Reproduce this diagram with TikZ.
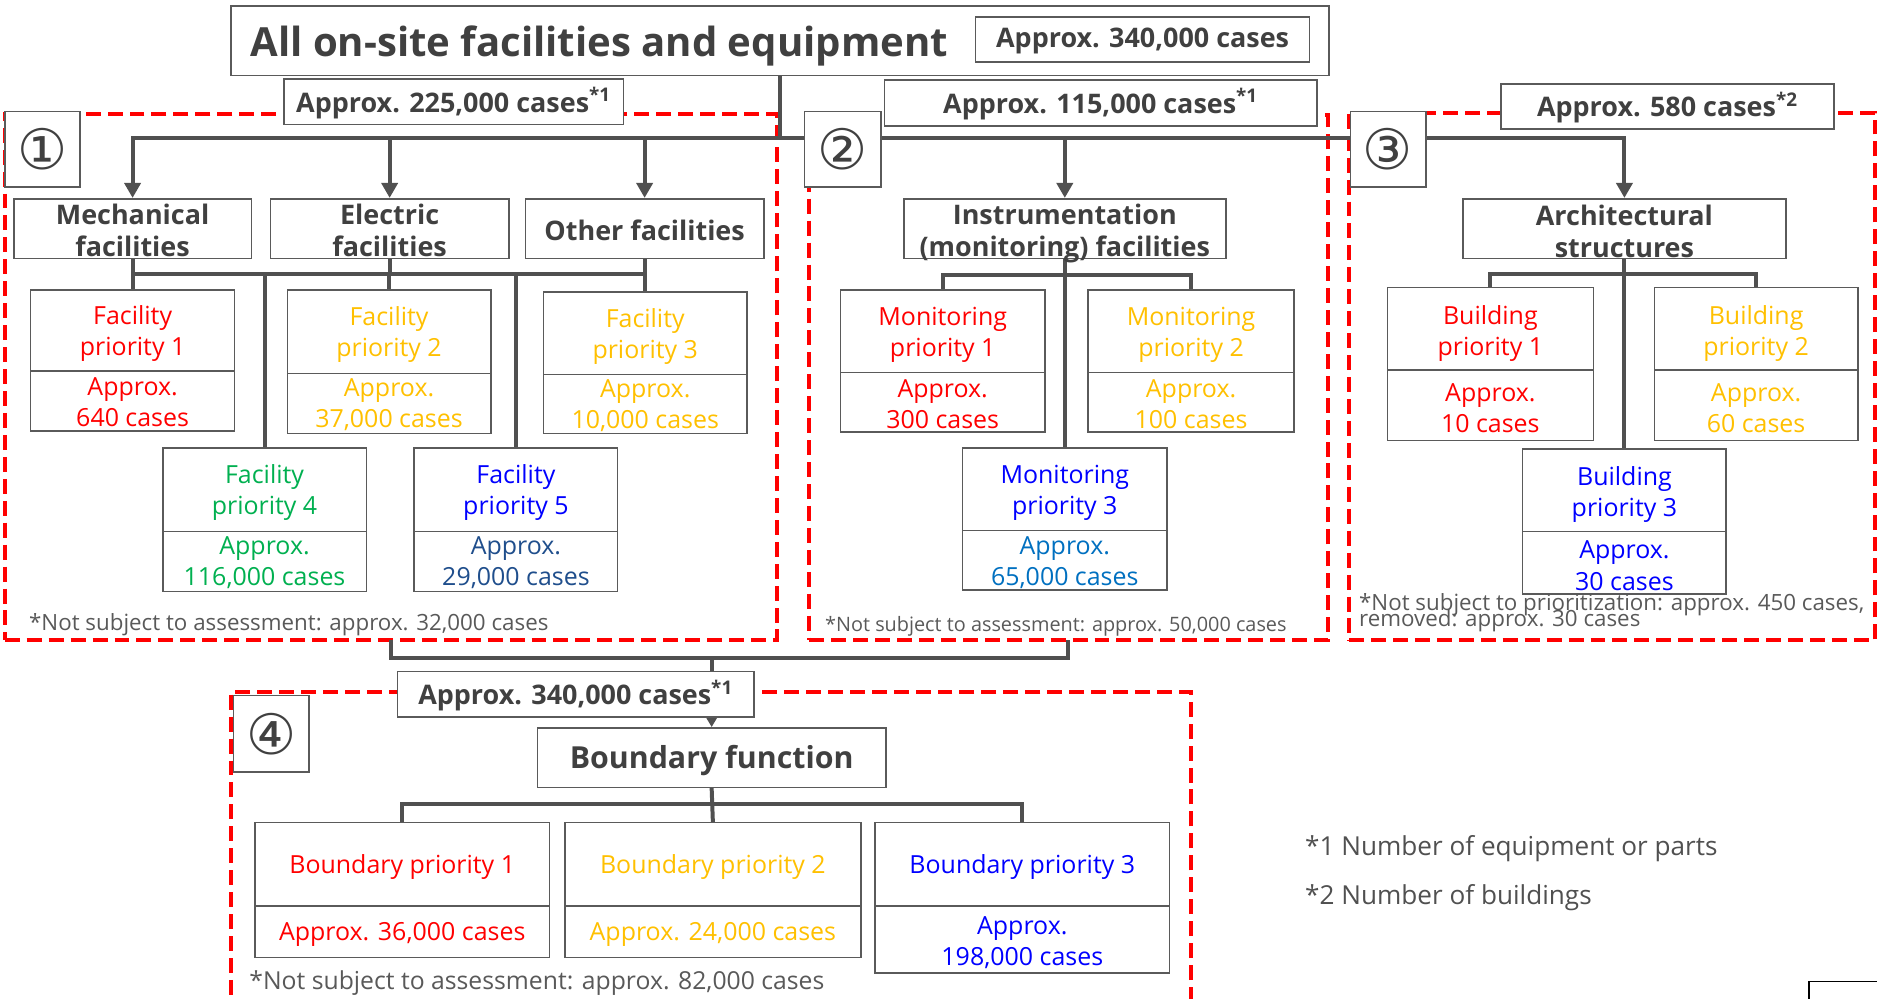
\documentclass[tikz,border=0pt]{standalone}
\usepackage{fontspec}
\setmainfont{Open Sans}
\newfontfamily\circfont{DejaVu Sans}
\usetikzlibrary{arrows.meta}
\definecolor{tgray}{HTML}{404040}
\definecolor{ngray}{HTML}{595959}
\definecolor{lgray}{HTML}{505050}
\definecolor{bgray}{HTML}{5A5A5A}
\definecolor{cred}{HTML}{FF0000}
\definecolor{cyel}{HTML}{FFC000}
\definecolor{cgreen}{HTML}{00B050}
\definecolor{cblue}{HTML}{0000FF}
\definecolor{cnavy}{HTML}{1F4E8C}
\definecolor{cmblue}{HTML}{0070C0}
\pgfdeclarelayer{bg}
\pgfsetlayers{bg,main}
\newcommand\tightlines{\lineskiplimit=-100pt\relax}
% box only: [box opts]{name}{x1}{y1}{x2}{y2}
\newcommand\boxonly[6][]{\node[cellbox,#1,minimum width={(#5-(#3))*0.6pt},minimum height={(#6-(#4))*0.6pt}] (#2) at ({(#3+#5)/2},{(#4+#6)/2}) {};}
% box with text: [text opts]{name}{x1}{y1}{x2}{y2}{text}
\newcommand\bxn[7][]{\boxonly{#2}{#3}{#4}{#5}{#6}\node[celltxt,#1] (#2-t) at (#2.center) {#7};}
\tikzset{
  cellbox/.style={draw=bgray,line width=0.8pt,fill=white,inner sep=0pt},
  celltxt/.style={inner sep=0pt,align=center,text=tgray,yshift=-1.5pt},
  bus/.style={draw=lgray,line width=2pt,line cap=rect},
  arr/.style={draw=lgray,line width=2pt,-{Triangle[length=7.5pt,width=8pt]}},
  smallarr/.style={draw=lgray,line width=1.2pt,-{Triangle[length=4.5pt,width=5pt]}},
  region/.style={draw=cred,fill=none,line width=2pt,dash pattern=on 7.5pt off 3.5pt},
  fb/.style={font=\bfseries\fontsize{13.5}{16.2}\selectfont},
  fr/.style={font=\fontsize{12.5}{15.6}\selectfont},
  circ/.style={font=\circfont\fontsize{28}{28}\selectfont,yshift=1.5pt},
  note/.style={anchor=west,inner sep=0pt,text=ngray,align=left},
}
\begin{document}
\begin{tikzpicture}[x=0.6pt,y=-0.6pt]
\useasboundingbox (0,0) rectangle (1568,834);
\clip (0,0) rectangle (1568,834);
% top
\boxonly{title}{193}{5}{1110}{63}
\node[anchor=west,inner sep=0pt,text=tgray,font=\bfseries\fontsize{20.1}{24}\selectfont] (titletxt) at (209,38) {All on-site facilities and equipment};
\bxn[fb,yshift=0.9pt]{tot0}{815}{14}{1094}{52}{Approx. 340,000 cases}
% group totals
\bxn[fb,yshift=0.9pt]{tot1}{237}{66}{521}{104}{Approx. 225,000 cases\textsuperscript{*1}}
\bxn[fb,yshift=0.9pt]{tot2}{739}{67}{1100}{105}{Approx. 115,000 cases\textsuperscript{*1}}
\bxn[fb,yshift=0.9pt]{tot3}{1254}{70}{1532}{108}{Approx. 580 cases\textsuperscript{*2}}
\bxn[fb,yshift=0.9pt]{tot4}{332}{561}{630}{599}{Approx. 340,000 cases\textsuperscript{*1}}
% circled numbers
\bxn[circ]{c1}{4}{93}{67}{156}{①}
\bxn[circ]{c2}{672}{93}{736}{156}{②}
\bxn[circ]{c3}{1128}{93}{1191}{156}{③}
\bxn[circ]{c4}{195}{581}{258}{645}{④}
% category boxes
\bxn[fb,yshift=0.6pt]{mech}{11.5}{166}{210}{216}{Mechanical\\facilities}
\bxn[fb,yshift=0.6pt]{elec}{226}{166}{425}{216}{Electric\\facilities}
\bxn[fb,yshift=0.6pt]{oth}{439}{166}{638}{216}{Other facilities}
\bxn[fb,yshift=-1pt]{inst}{755}{166}{1024}{216}{Instrumentation\\(monitoring) facilities}
\bxn[fb]{arch}{1222}{166}{1492}{216}{Architectural\\structures}
\bxn[font=\bfseries\fontsize{15.2}{18}\selectfont]{bf}{449}{608}{740}{658}{Boundary function}
% facility priorities
\bxn[fr,text=cred]{f1t}{25.6}{242}{196}{310}{Facility\\priority 1}
\bxn[fr,text=cred,yshift=0.8pt]{f1v}{25.6}{310}{196}{360}{Approx.\\640 cases}
\bxn[fr,text=cyel]{f2t}{240}{242}{410}{312}{Facility\\priority 2}
\bxn[fr,text=cyel,yshift=0.8pt]{f2v}{240}{312}{410}{362}{Approx.\\37,000 cases}
\bxn[fr,text=cyel]{f3t}{454}{244}{624}{313}{Facility\\priority 3}
\bxn[fr,text=cyel,yshift=0.8pt]{f3v}{454}{313}{624}{362}{Approx.\\10,000 cases}
\bxn[fr,text=cgreen]{f4t}{136}{374}{306}{444}{Facility\\priority 4}
\bxn[fr,text=cgreen,yshift=0.8pt]{f4v}{136}{444}{306}{494}{Approx.\\116,000 cases}
\bxn[fr,text=cblue]{f5t}{346}{374}{516}{444}{Facility\\priority 5}
\bxn[fr,text=cnavy,yshift=0.8pt]{f5v}{346}{444}{516}{494}{Approx.\\29,000 cases}
% monitoring priorities
\bxn[fr,text=cred,yshift=-0.6pt]{m1t}{702}{242}{873}{311}{Monitoring\\priority 1}
\bxn[fr,text=cred,yshift=0.5pt]{m1v}{702}{311}{873}{361}{Approx.\\300 cases}
\bxn[fr,text=cyel,yshift=-0.6pt]{m2t}{909}{242}{1081}{311}{Monitoring\\priority 2}
\bxn[fr,text=cyel,yshift=0.5pt]{m2v}{909}{311}{1081}{361}{Approx.\\100 cases}
\bxn[fr,text=cblue,yshift=-0.6pt]{m3t}{804}{374}{975}{443}{Monitoring\\priority 3}
\bxn[fr,text=cmblue,yshift=0.5pt]{m3v}{804}{443}{975}{493}{Approx.\\65,000 cases}
% building priorities
\bxn[fr,text=cred,yshift=-0.9pt]{b1t}{1159}{240}{1331}{309}{Building\\priority 1}
\bxn[fr,text=cred]{b1v}{1159}{309}{1331}{368}{Approx.\\10 cases}
\bxn[fr,text=cyel,yshift=-0.9pt]{b2t}{1382}{240}{1552}{309}{Building\\priority 2}
\bxn[fr,text=cyel]{b2v}{1382}{309}{1552}{368}{Approx.\\60 cases}
\bxn[fr,text=cblue,yshift=-0.6pt]{b3t}{1272}{375}{1442}{444}{Building\\priority 3}
\bxn[fr,text=cblue]{b3v}{1272}{444}{1442}{496}{Approx.\\30 cases}
% boundary priorities
\bxn[fr,text=cred]{p1t}{213}{687}{459}{757}{Boundary priority 1}
\bxn[fr,text=cred]{p1v}{213}{757}{459}{800}{Approx. 36,000 cases}
\bxn[fr,text=cyel]{p2t}{472}{687}{719}{757}{Boundary priority 2}
\bxn[fr,text=cyel]{p2v}{472}{757}{719}{800}{Approx. 24,000 cases}
\bxn[fr,text=cblue]{p3t}{731}{687}{977}{757}{Boundary priority 3}
\bxn[fr,text=cblue]{p3v}{731}{757}{977}{813}{Approx.\\198,000 cases}
% notes
\node[note,font=\fontsize{11.2}{12}\selectfont] (n1) at (24,522) {*Not subject to assessment: approx. 32,000 cases};
\node[note,font=\fontsize{9.95}{11}\selectfont] (n2) at (689,523) {*Not subject to assessment: approx. 50,000 cases};
\node[note,anchor=base west,font={\fontsize{11.2}{7.8}\selectfont\tightlines}] (n3) at (1135,523) {*Not subject to prioritization: approx. 450 cases,\\removed: approx. 30 cases};
\node[note,font=\fontsize{12.4}{14}\selectfont] (n4) at (208,821) {*Not subject to assessment: approx. 82,000 cases};
\node[note,text=lgray,font=\fontsize{13.1}{15}\selectfont] (fn1) at (1090,709) {*1 Number of equipment or parts};
\node[note,text=lgray,font=\fontsize{13.1}{15}\selectfont] (fn2) at (1090,750) {*2 Number of buildings};
% partial box at the corner
\boxonly[draw=black]{cut}{1511}{820}{1600}{880}
\begin{pgfonlayer}{bg}
\boxonly[region]{reg1}{4}{95}{649}{535}
\boxonly[region]{reg2}{676}{96}{1109}{535}
\boxonly[region]{reg3}{1127}{94}{1566}{535}
\boxonly[region]{reg4}{193}{578}{995}{860}
\coordinate (bus) at (0,115);
\draw[bus] (title.south) -- (title.south |- bus);
\draw[bus] (mech.north |- bus) -- (arch.north |- bus);
\draw[arr] (mech.north |- bus) -- (mech.north);
\draw[arr] (elec.north |- bus) -- (elec.north);
\draw[arr] (oth.north |- bus) -- (oth.north);
\draw[arr] (inst.north |- bus) -- (inst.north);
\draw[arr] (arch.north |- bus) -- (arch.north);
% group 1
\coordinate (sb1) at (0,229);
\draw[bus] (mech.south) -- (mech.south |- sb1) -- (oth.south |- sb1) -- (oth.south);
\draw[bus] (elec.south) -- (elec.south |- sb1);
\draw[bus] (f1t.north |- sb1) -- (f1t.north);
\draw[bus] (f2t.north |- sb1) -- (f2t.north);
\draw[bus] (f3t.north |- sb1) -- (f3t.north);
\draw[bus] (f4t.north |- sb1) -- (f4t.north);
\draw[bus] (f5t.north |- sb1) -- (f5t.north);
% group 2
\coordinate (sb2) at (0,230);
\draw[bus] (inst.south) -- (m3t.north);
\draw[bus] (m1t.north) -- (m1t.north |- sb2) -- (m2t.north |- sb2) -- (m2t.north);
% group 3
\coordinate (sb3) at (0,229);
\draw[bus] (arch.south) -- (b3t.north);
\draw[bus] (b1t.north) -- (b1t.north |- sb3) -- (b2t.north |- sb3) -- (b2t.north);
% join to group 4
\coordinate (jb) at (0,550);
\draw[bus] (reg1.south) -- (reg1.south |- jb) -- (reg2.south |- jb) -- (reg2.south);
\draw[bus] (bf.north |- jb) -- (bf.north |- tot4.north);
\draw[smallarr] (bf.north |- tot4.south) -- (bf.north);
% group 4
\coordinate (sb4) at (0,672);
\draw[bus] (bf.south) -- (p2t.north);
\draw[bus] (p1t.north) -- (p1t.north |- sb4) -- (p3t.north |- sb4) -- (p3t.north);
\end{pgfonlayer}
\end{tikzpicture}
\end{document}
